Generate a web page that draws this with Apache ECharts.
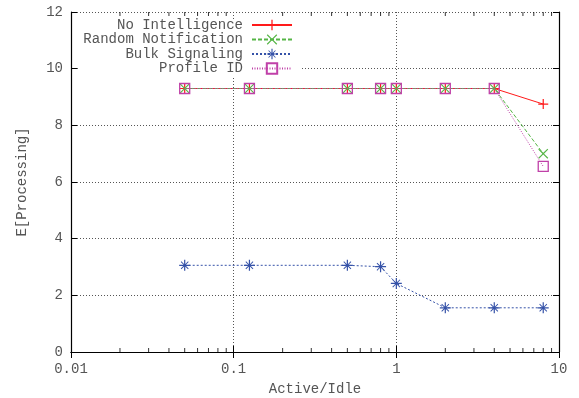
<!DOCTYPE html>
<html>
<head>
<meta charset="utf-8">
<script src="https://cdn.jsdelivr.net/npm/echarts@6/dist/echarts.min.js"></script>
<style>html,body{margin:0;padding:0;background:#fff}#c{width:579px;height:398px}</style>
</head>
<body>
<div id="c"></div>
<script>
const xValues = [0.05, 0.125, 0.5, 0.8, 1, 2, 4, 8];
const noIntelligence = [9.3, 9.3, 9.3, 9.3, 9.3, 9.3, 9.3, 8.75];
const randomNotification = [9.3, 9.3, 9.3, 9.3, 9.3, 9.3, 9.3, 7.0];
const bulkSignaling = [3.06, 3.06, 3.06, 3.01, 2.42, 1.56, 1.56, 1.56];
const profileId = [9.3, 9.3, 9.3, 9.3, 9.3, 9.3, 9.3, 6.55];
const seriesNames = ['No Intelligence', 'Random Notification', 'Bulk Signaling', 'Profile ID'];
const xTickLabels = ['0.01', '0.1', '1', '10'];
const yTickLabels = ['0', '2', '4', '6', '8', '10', '12'];
const xMinorTicks = [0.02,0.03,0.04,0.05,0.06,0.07,0.08,0.09,0.2,0.3,0.4,0.5,0.6,0.7,0.8,0.9,2,3,4,5,6,7,8,9];

const FONT = 'Liberation Mono, DejaVu Sans Mono, monospace';
const TXT = '#555';

const PLUS = 'path://M4.4,0H5.6V4.4H10V5.6H5.6V10H4.4V5.6H0V4.4H4.4Z';
const d = 0.8;
function xPath() {
  const p = [[0,-d],[5-d,-5],[5,-5+d],[d,0],[5,5-d],[5-d,5],[0,d],[-5+d,5],[-5,5-d],[-d,0],[-5,-5+d],[-5+d,-5]];
  return 'M' + p.map(q => (q[0]+5).toFixed(2) + ',' + (q[1]+5).toFixed(2)).join('L') + 'Z';
}
const CROSS = 'path://' + xPath();
const STAR = 'path://M4.45,0H5.55V4.45H10V5.55H5.55V10H4.45V5.55H0V4.45H4.45Z' + xPath().replace(/(\d+\.\d+),(\d+\.\d+)/g, (m, a, b) => {
  const x = (parseFloat(a) - 5) * 0.72 + 5, y = (parseFloat(b) - 5) * 0.72 + 5; return x.toFixed(2) + ',' + y.toFixed(2);
});

function pairs(ys) { return xValues.map((x, i) => [x, ys[i]]); }

const styles = [
  { color: '#ff1a1a', type: 'solid', symbol: PLUS, size: 10 },
  { color: '#55b545', type: [4, 2], symbol: CROSS, size: 10 },
  { color: '#3552a8', type: [2, 2], symbol: STAR, size: 11 },
  { color: '#c040a8', type: [1, 1.5], symbol: 'rect', size: 10 }
];
const dataSets = [noIntelligence, randomNotification, bulkSignaling, profileId];

const series = dataSets.map((ys, i) => {
  const s = styles[i];
  const isRect = s.symbol === 'rect';
  return {
    name: seriesNames[i], type: 'line', xAxisIndex: 0, yAxisIndex: 0,
    data: pairs(ys), symbol: s.symbol, symbolSize: s.size, showSymbol: true,
    lineStyle: { color: s.color, width: 1, type: s.type },
    itemStyle: isRect ? { color: 'rgba(255,255,255,0)', borderColor: s.color, borderWidth: 1.3 } : { color: s.color, borderWidth: 0 },
    z: 2 + i, animation: false, silent: true
  };
});

series.push({
  type: 'scatter', xAxisIndex: 0, yAxisIndex: 0, silent: true, animation: false,
  data: xMinorTicks.map(x => [x, 0]), symbol: 'rect', symbolSize: [1, 4], symbolOffset: [0, -2],
  itemStyle: { color: '#000' }, clip: false, z: 10
});
series.push({
  type: 'scatter', xAxisIndex: 0, yAxisIndex: 0, silent: true, animation: false,
  data: xMinorTicks.map(x => [x, 12]), symbol: 'rect', symbolSize: [1, 4], symbolOffset: [0, 2],
  itemStyle: { color: '#000' }, clip: false, z: 10
});

const rowCenters = [25, 39.5, 54, 68.5];
const legends = seriesNames.map((n, i) => ({
  data: [n], right: 286, top: rowCenters[i] - 7, orient: 'horizontal', align: 'right',
  padding: 0, itemWidth: 40, itemHeight: 13, itemGap: 0, selectedMode: false,
  textStyle: { fontFamily: FONT, fontSize: 14, color: TXT, padding: [0, 4, 0, 0] }, z: 6
}));

const axisLineStyle = { lineStyle: { color: '#000', width: 1.2 } };
const option = {
  animation: false,
  backgroundColor: '#fff',
  grid: { left: 71, right: 20, top: 12, bottom: 46, containLabel: false, outerBoundsMode: 'none' },
  legend: legends,
  graphic: { elements: [{ type: 'rect', shape: { x: 78, y: 19, width: 223, height: 57 }, style: { fill: '#fff' }, z: 1, silent: true }] },
  xAxis: [{
    type: 'log', logBase: 10, min: 0.01, max: 10, position: 'bottom',
    axisLine: axisLineStyle, axisTick: { show: true, inside: true, length: 6, lineStyle: { color: '#000' } },
    minorTick: { show: false },
    splitLine: { show: true, lineStyle: { color: '#555', width: 1, type: [1, 2] } },
    axisLabel: { margin: 10, fontFamily: FONT, fontSize: 14, color: TXT, formatter: (v, i) => xTickLabels[i] },
    name: 'Active/Idle', nameLocation: 'middle', nameGap: 30,
    nameTextStyle: { fontFamily: FONT, fontSize: 14, color: TXT }
  }, {
    type: 'log', logBase: 10, min: 0.01, max: 10, position: 'top',
    axisLine: axisLineStyle, axisTick: { show: true, inside: true, length: 6, lineStyle: { color: '#000' } },
    splitLine: { show: false }, axisLabel: { show: false }
  }],
  yAxis: [{
    type: 'value', min: 0, max: 12, interval: 2, position: 'left',
    axisLine: { show: true, lineStyle: { color: '#000', width: 1.2 } },
    axisTick: { show: true, inside: true, length: 6, lineStyle: { color: '#000' } },
    splitLine: { show: true, lineStyle: { color: '#555', width: 1, type: [1, 2] } },
    axisLabel: { margin: 8, fontFamily: FONT, fontSize: 14, color: TXT, formatter: (v, i) => yTickLabels[i] },
    name: 'E[Processing]', nameLocation: 'middle', nameGap: 42, nameRotate: 90,
    nameTextStyle: { fontFamily: FONT, fontSize: 14, color: TXT }
  }, {
    type: 'value', min: 0, max: 12, interval: 2, position: 'right',
    axisLine: { show: true, lineStyle: { color: '#000', width: 1.2 } },
    axisTick: { show: true, inside: true, length: 6, lineStyle: { color: '#000' } },
    splitLine: { show: false }, axisLabel: { show: false }
  }],
  series: series
};
const chart = echarts.init(document.getElementById('c'), null, { renderer: 'canvas' });
chart.setOption(option);
</script>
</body>
</html>
